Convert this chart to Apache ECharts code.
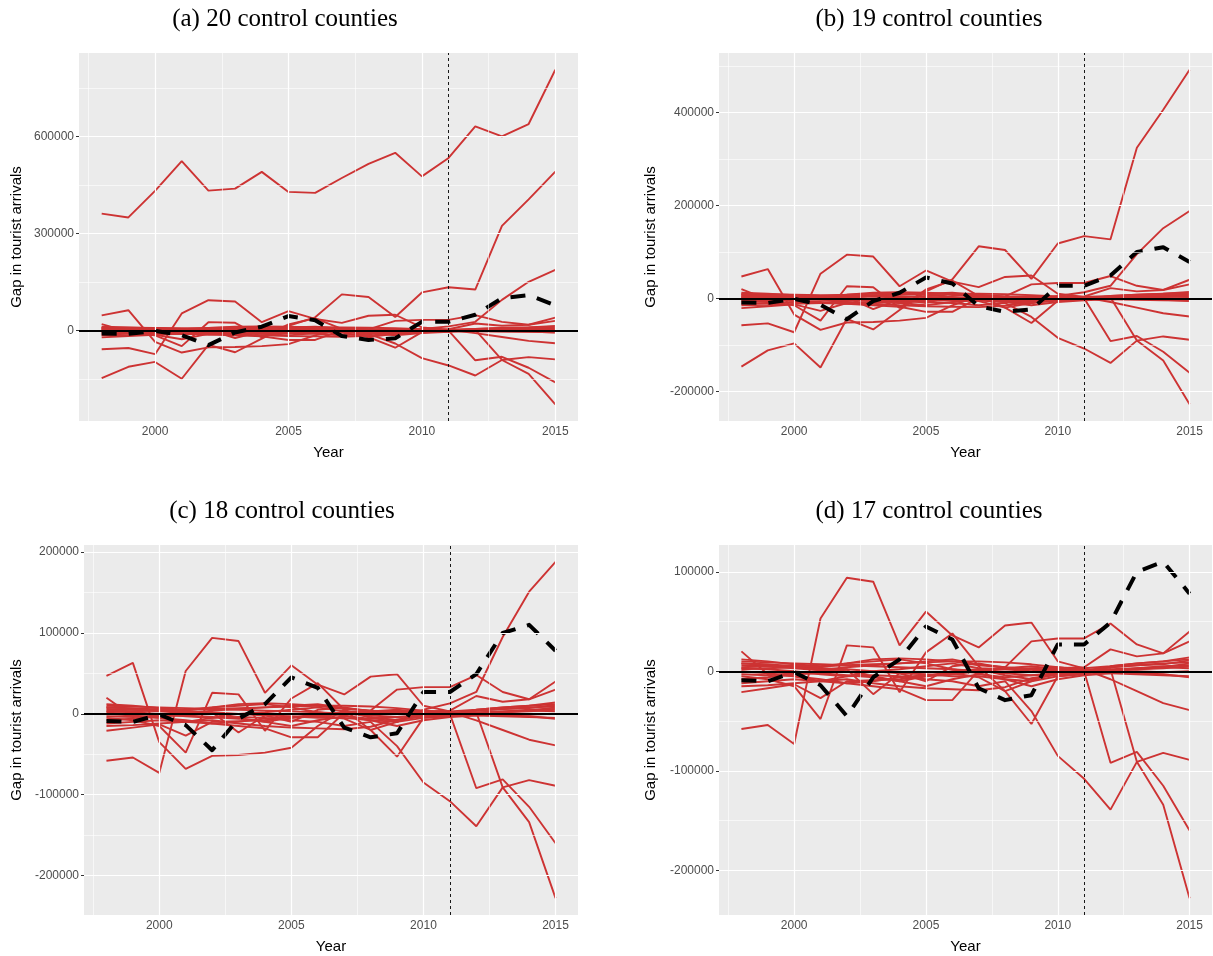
<!DOCTYPE html>
<html>
<head>
<meta charset="utf-8">
<script src="https://cdn.jsdelivr.net/npm/echarts@6/dist/echarts.min.js"></script>
<style>
  html, body { margin: 0; padding: 0; background: #ffffff; }
  #chart { width: 1213px; height: 956px; }
</style>
</head>
<body>
<div id="chart"></div>
<script>
// Years covered by the gap series
const years = [1998,1999,2000,2001,2002,2003,2004,2005,2006,2007,2008,2009,2010,2011,2012,2013,2014,2015];

// Gap in tourist arrivals for the treated county
const treatedGap = [-9000,-10000,-1000,-14000,-45000,-6000,12000,45000,32000,-17000,-29000,-24000,27000,27000,49000,100000,110000,78000];

// Placebo gaps, one array per control county
const county01 = [-58000,-54000,-73000,53000,94000,90000,26000,60000,36000,24000,46000,49000,10000,3000,5000,8000,10000,12000];
const county02 = [6000,5000,3000,1000,4000,6000,8000,10000,12000,7000,4000,30000,33000,33000,48000,27000,18000,40000];
const county03 = [20000,-3000,-5000,-10000,-5000,0,2000,5000,8000,3000,2000,0,3000,4000,22000,15000,18000,30000];
const county04 = [-21000,-17000,-13000,-27000,-10000,-9000,-8000,-5000,-3000,0,2000,3000,4000,2000,-8000,-20000,-32000,-39000];
const county05 = [3000,2000,0,-3000,-5000,-4000,-5000,-8000,-10000,-15000,-10000,-40000,-85000,-108000,-139000,-91000,-82000,-89000];
const county06 = [8000,7000,5000,3000,2000,0,-2000,-3000,-5000,-5000,-8000,-10000,2000,0,-92000,-81000,-115000,-160000];
const county07 = [10000,9000,8000,7000,6000,5000,4000,3000,2000,0,-2000,-4000,-3000,-2000,2000,-91000,-134000,-228000];
const county08 = [-5000,-8000,-15000,-48000,26000,24000,-21000,19000,38000,5000,-20000,-10000,-5000,-3000,5000,8000,10000,14000];
const county09 = [0,-2000,-5000,-8000,-12000,-15000,-18000,-29000,-29000,1000,3000,5000,2000,1000,4000,6000,8000,9000];
const county10 = [-12000,-10000,-8000,-10000,-12000,-10000,-6000,-4000,-2000,-6000,-20000,-53000,-5000,-2000,0,3000,5000,6000];
const county11 = [-15000,-14000,-12000,-10000,-8000,-12000,-15000,-17000,-18000,-19000,-16000,-7000,-3000,-1000,0,2000,4000,8000];
const county12 = [8000,6000,4000,2000,0,-5000,-10000,-15000,-8000,-3000,-6000,-4000,-2000,-1000,-2000,-3000,-4000,-5000];
const county13 = [2000,3000,4000,5000,6000,7000,8000,9000,10000,10000,9000,7000,4000,1000,-1000,-2000,-3000,-6000];
const county14 = [-3000,-4000,-2000,0,2000,-23000,-2000,-10000,5000,8000,3000,2000,1000,0,2000,3000,4000,3000];
const county15 = [12000,10000,7000,5000,8000,12000,13000,12000,10000,6000,4000,2000,0,-1000,1000,2000,3000,5000];
const county16 = [-8000,-6000,-3000,-2000,-4000,-6000,-10000,-5000,0,2000,-4000,-8000,-3000,0,4000,6000,7000,11000];
const county17 = [4000,5000,6000,4000,8000,10000,12000,8000,2000,-2000,-8000,-15000,-8000,-4000,-2000,0,-1000,0];
const county18 = [47000,63000,-35000,-68000,-52000,-51000,-48000,-42000,-15000,5000,-5000,-10000,5000,13000,27000,95000,151000,188000];
const county19 = [-147000,-112000,-97000,-149000,-44000,-67000,-25000,15000,41000,112000,104000,42000,118000,134000,127000,324000,406000,492000];
const county20 = [362000,350000,432000,524000,433000,439000,491000,429000,426000,472000,516000,550000,477000,534000,632000,601000,639000,807000];

// Panel titles and how many control counties each panel keeps
const panelTitles = ['(a) 20 control counties', '(b) 19 control counties', '(c) 18 control counties', '(d) 17 control counties'];
const panelCountyCounts = [20, 19, 18, 17];

// Axis breaks
const xBreaks = [2000, 2005, 2010, 2015];
const xMinorBreaks = [1997.5, 2002.5, 2007.5, 2012.5];
const yBreaksA = [0, 300000, 600000];
const yMinorA = [-150000, 150000, 450000, 750000];
const yBreaksB = [-200000, 0, 200000, 400000];
const yMinorB = [-100000, 100000, 300000, 500000];
const yBreaksC = [-200000, -100000, 0, 100000, 200000];
const yMinorC = [-150000, -50000, 50000, 150000];
const yBreaksD = [-200000, -100000, 0, 100000];
const yMinorD = [-150000, -50000, 50000];
const treatmentYear = 2011;

const allCounties = [county01, county02, county03, county04, county05, county06, county07, county08, county09, county10,
                     county11, county12, county13, county14, county15, county16, county17, county18, county19, county20];
const yBreaks = [yBreaksA, yBreaksB, yBreaksC, yBreaksD];
const yMinor = [yMinorA, yMinorB, yMinorC, yMinorD];

// Panel rectangles (pixels) and title centres
const panelBoxes = [
  { left: 79,  top: 53,  width: 499, height: 368, titleX: 285, titleY: 19,  nameGap: 55 },
  { left: 719, top: 53,  width: 493, height: 368, titleX: 929, titleY: 19,  nameGap: 61 },
  { left: 84,  top: 545, width: 494, height: 370, titleX: 282, titleY: 511, nameGap: 60 },
  { left: 719, top: 545, width: 493, height: 370, titleX: 929, titleY: 511, nameGap: 61 }
];

const RED = '#CD3333';
const GRID_BG = '#EBEBEB';

const chart = echarts.init(document.getElementById('chart'), null, { renderer: 'canvas' });

const grids = [], xAxes = [], yAxes = [], series = [], graphics = [];

panelBoxes.forEach((box, p) => {
  const counties = allCounties.slice(0, panelCountyCounts[p]);
  // ggplot-style 5% expansion of the data range
  let lo = Infinity, hi = -Infinity;
  counties.concat([treatedGap]).forEach(arr => arr.forEach(v => { lo = Math.min(lo, v); hi = Math.max(hi, v); }));
  const pad = (hi - lo) * 0.05;
  const xPad = (years[years.length - 1] - years[0]) * 0.05;

  grids.push({
    left: box.left, top: box.top, width: box.width, height: box.height,
    show: true, backgroundColor: GRID_BG, borderWidth: 0, containLabel: false
  });

  xAxes.push({
    type: 'value', gridIndex: p,
    min: years[0] - xPad, max: years[years.length - 1] + xPad,
    axisLine: { show: false },
    splitLine: { show: false },
    axisTick: { show: true, customValues: xBreaks, length: 3, lineStyle: { color: '#333333', width: 1 } },
    axisLabel: { show: true, customValues: xBreaks, color: '#4D4D4D', fontSize: 12, fontFamily: 'Liberation Sans', margin: 5,
                 formatter: v => String(v) },
    name: 'Year', nameLocation: 'middle', nameGap: 24,
    nameTextStyle: { color: '#000000', fontSize: 15, fontFamily: 'Liberation Sans' }
  });

  yAxes.push({
    type: 'value', gridIndex: p,
    min: lo - pad, max: hi + pad,
    axisLine: { show: false },
    splitLine: { show: false },
    axisTick: { show: true, customValues: yBreaks[p], length: 3, lineStyle: { color: '#333333', width: 1 } },
    axisLabel: { show: true, customValues: yBreaks[p], color: '#4D4D4D', fontSize: 12, fontFamily: 'Liberation Sans', margin: 5,
                 formatter: v => String(v) },
    name: 'Gap in tourist arrivals', nameLocation: 'middle', nameRotate: 90, nameGap: box.nameGap,
    nameTextStyle: { color: '#000000', fontSize: 15, fontFamily: 'Liberation Sans' }
  });

  // White panel grid lines
  const gridMarks = [];
  xBreaks.forEach(v => gridMarks.push({ xAxis: v, lineStyle: { color: '#FFFFFF', width: 1.2, type: 'solid' } }));
  xMinorBreaks.forEach(v => gridMarks.push({ xAxis: v, lineStyle: { color: '#FFFFFF', width: 0.6, type: 'solid' } }));
  yBreaks[p].forEach(v => gridMarks.push({ yAxis: v, lineStyle: { color: '#FFFFFF', width: 1.2, type: 'solid' } }));
  yMinor[p].forEach(v => gridMarks.push({ yAxis: v, lineStyle: { color: '#FFFFFF', width: 0.6, type: 'solid' } }));
  series.push({
    type: 'line', xAxisIndex: p, yAxisIndex: p, data: [], silent: true, z: 1,
    markLine: { silent: true, symbol: ['none', 'none'], label: { show: false }, animation: false, data: gridMarks }
  });

  // Placebo gaps of control counties
  counties.forEach((arr, k) => {
    series.push({
      type: 'line', name: 'county' + (k + 1), xAxisIndex: p, yAxisIndex: p,
      data: years.map((yr, i) => [yr, arr[i]]),
      showSymbol: false, symbol: 'none', silent: true, z: 2,
      lineStyle: { color: RED, width: 1.9 }
    });
  });

  // Zero reference and treatment year
  series.push({
    type: 'line', xAxisIndex: p, yAxisIndex: p, data: [], silent: true, z: 3,
    markLine: {
      silent: true, symbol: ['none', 'none'], label: { show: false }, animation: false,
      data: [
        { yAxis: 0, lineStyle: { color: '#000000', width: 1.8, type: 'solid' } },
        { xAxis: treatmentYear, lineStyle: { color: '#000000', width: 0.9, type: [3, 3] } }
      ]
    }
  });

  // Treated county gap
  series.push({
    type: 'line', name: 'treated', xAxisIndex: p, yAxisIndex: p,
    data: years.map((yr, i) => [yr, treatedGap[i]]),
    showSymbol: false, symbol: 'none', silent: true, z: 4,
    lineStyle: { color: '#000000', width: 4, type: [15, 12], cap: 'butt', join: 'round' }
  });

  graphics.push({
    type: 'text', x: box.titleX, y: box.titleY, z: 10,
    style: { text: panelTitles[p], fill: '#000000', font: '25px "Liberation Serif", "DejaVu Serif", serif',
             textAlign: 'center', textVerticalAlign: 'middle', align: 'center', verticalAlign: 'middle' }
  });
});

chart.setOption({
  animation: false,
  backgroundColor: '#FFFFFF',
  grid: grids,
  xAxis: xAxes,
  yAxis: yAxes,
  series: series,
  graphic: graphics
});
</script>
</body>
</html>
